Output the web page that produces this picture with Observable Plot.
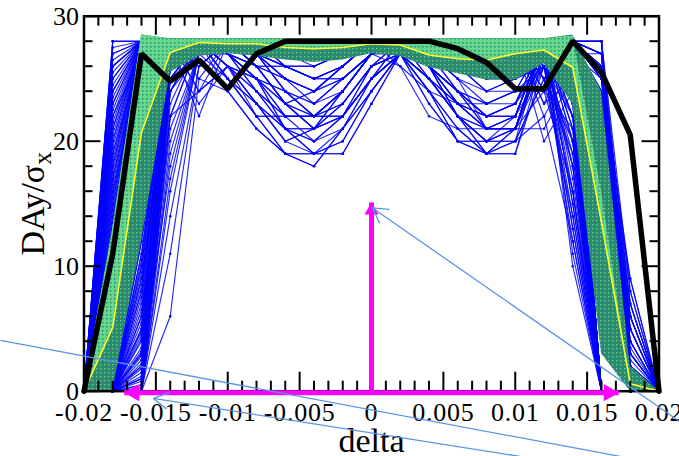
<!DOCTYPE html>
<html><head><meta charset="utf-8">
<script src="https://cdn.jsdelivr.net/npm/d3@7"></script>
<script src="https://cdn.jsdelivr.net/npm/@observablehq/plot@0.6"></script>
<style>
html,body{margin:0;padding:0;background:#fff;overflow:hidden;}
#chart svg{display:block;}
g[aria-label="x-axis tick label"] text{letter-spacing:0.8px;}
</style></head><body><div id="chart"></div>
<script>
const deltas = [-0.02,-0.018,-0.016,-0.014,-0.012,-0.01,-0.008,-0.006,-0.004,-0.002,0,0.002,0.004,0.006,0.008,0.01,0.012,0.014,0.016,0.018,0.02];

// one row per seed: DA at each delta
const seeds = [
[0,28,28,28,28,28,28,28,28,28,28,28,28,28,28,28,28,28,0,0,0],
[0,27,28,28,28,27,25,21,20,22,26,27,25,23,22,23,28,28,28,0,0],
[0,26,28,28,27,28,28,28,27,27,28,28,28,27,26,27,28,28,28,2,0],
[0,25,28,28,28,28,28,27,27,28,28,28,25,22,19,19,27,28,0,0,0],
[0,24,28,27,23,26,23,20,21,24,27,27,24,20,19,21,28,27,22,0,0],
[0,23,28,28,28,28,28,28,28,28,28,28,28,28,28,28,28,28,26,4,0],
[0,22,27,28,28,28,27,26,26,27,28,28,28,27,27,28,28,27,0,0,0],
[0,21,28,28,25,24,21,19,18,21,24,27,26,24,21,21,27,28,18,0,0],
[0,20,28,28,28,27,25,24,22,22,25,28,28,28,27,28,28,27,24,1,0],
[0,19,27,28,28,28,28,28,28,28,28,28,28,28,28,28,26,27,0,0,0],
[0,18,28,26,27,25,22,19,19,19,23,27,26,24,23,24,26,28,24,0,0],
[0,17,28,28,28,28,28,26,25,26,28,27,23,20,20,20,28,28,22,6,0],
[0,16,26,28,28,27,26,25,24,25,27,28,28,28,28,28,25,26,0,0,0],
[0,15,28,28,24,26,24,22,22,24,27,28,27,26,25,25,28,26,14,0,0],
[0,14,27,28,28,28,28,28,28,28,28,28,28,28,28,28,27,28,25,3,0],
[0,13,28,28,28,28,27,25,24,26,28,28,26,24,22,22,28,24,0,0,0],
[0,24,28,28,28,28,27,26,25,26,28,27,25,22,21,22,28,28,10,0,0],
[0,26,28,28,28,28,28,28,27,27,28,28,28,27,26,27,28,28,20,2,0],
[0,0,28,28,28,28,26,23,22,24,27,28,28,26,24,25,26,20,0,0,0],
[0,0,27,28,28,28,28,28,28,28,28,28,28,28,28,28,25,27,20,0,0],
[0,0,26,28,27,28,28,28,28,28,27,26,24,23,22,22,28,28,27,5,0],
[0,0,25,28,28,26,25,22,22,22,25,27,27,25,24,24,24,16,0,0,0],
[0,0,24,28,28,28,27,26,26,27,28,28,28,27,27,28,28,28,26,0,0],
[0,0,23,27,28,28,28,27,26,27,28,26,22,21,21,22,28,26,23,1,0],
[0,0,22,28,22,28,28,28,28,28,28,28,28,28,28,28,28,26,0,0,0],
[0,0,21,28,28,25,22,22,22,23,26,28,26,23,23,23,27,26,6,0,0],
[0,0,20,28,28,27,25,21,20,22,26,27,25,23,22,23,28,26,15,3,0],
[0,0,19,27,28,27,26,25,24,25,27,28,28,28,28,28,23,28,0,0,0],
[0,0,18,28,24,26,23,20,21,24,27,27,24,20,19,21,28,28,16,0,0],
[0,0,16,28,28,28,28,28,28,28,28,28,28,28,28,28,27,28,26,0.5,0],
[0,0,14,28,28,26,22,22,22,24,27,28,27,25,21,21,21,25,0,0,0],
[0,0,12,26,28,28,28,27,27,28,28,28,25,22,19,19,26,27,25,0,0],
[0,0,10,27,28,28,28,28,27,27,28,28,28,27,26,27,28,28,21,4,0],
[0,0,8,28,28,24,21,19,18,21,24,27,26,24,21,21,27,22,0,0,0],
[0,0,5,28,28,28,28,28,28,28,28,28,28,28,28,28,28,28,12,0,0],
[0,0,3,22,28,26,24,22,22,24,27,28,27,26,25,25,26,28,27,2,0],
[0,0,2,18,27,28,28,26,25,26,28,27,23,20,20,20,25,14,0,0,0],
[0,0,1,24,28,27,25,24,22,22,25,28,28,28,27,28,24,26,19,0,0],
[0,0,0,28,28,28,28,28,28,28,28,28,28,28,28,28,20,24,0,0,0],
[0,0,0,27,28,25,22,19,19,19,23,27,26,24,23,24,28,28,0,0,0],
[0,0,0,26,28,28,27,25,24,26,28,28,26,24,22,22,26,28,0,0,0],
[0,0,0,25,27,28,27,26,26,27,28,28,28,27,27,28,24,27,0,0,0],
[0,0,0,22,24,28,27,26,25,26,28,27,25,22,21,22,28,25,0,0,0],
[0,0,0,16,27,28,28,28,28,28,28,28,28,28,28,28,22,26,0,0,0],
[0,0,0,11,26,28,26,23,22,24,27,28,28,26,24,25,27,18,0,0,0],
[0,11.5,26,28,28,28,28,28,28,28,28,28,28,28,28,28,28,10,0,0,0],
[0,12.5,28,28,28,28,27,24,23,25,27,28,27,24,22,23,26,12,0,0,0],
[0,13.5,27,28,28,28,28,28,28,28,28,28,28,28,28,28,27,14,0,0,0],
[0,14.5,28,28,27,27,24,21,19,20,24,27,28,27,26,27,28,17,0,0,0],
[0,15.5,28,28,28,28,28,28,28,28,28,28,28,28,28,28,25,19,0,0,0],
[0,16.5,28,28,28,28,28,28,28,28,28,28,26,23,21,21,24,21,0,0,0],
[0,17.5,28,27,28,28,28,28,28,28,28,28,28,28,28,28,28,23,0,0,0],
[0,18.5,28,28,28,26,25,23,24,26,28,28,28,28,27,28,27,25,0,0,0],
[0,19.5,28,28,28,28,28,28,28,28,28,28,28,28,28,28,28,27,0,0,0],
[0,20.5,28,28,26,28,26,23,21,22,25,27,26,22,20,21,26,28,0,0,0],
[0,21.5,28,28,28,28,28,28,28,28,28,28,28,28,28,28,28,28,11,0,0],
[0,22.5,28,28,28,27,26,26,25,25,27,28,27,26,26,27,28,28,13,0,0],
[0,23.5,28,28,28,28,28,28,28,28,28,28,28,28,28,28,27,28,17,0,0],
[0,24.5,28,28,28,25,23,21,21,23,26,27,24,21,19,20,25,27,21,0,0],
[0,25.5,28,28,28,28,28,28,28,28,28,28,28,28,28,28,28,28,23,0,0],
[0,26.5,28,28,28,28,28,28,28,28,28,28,28,28,28,28,28,27,27,0,0],
[0,27.5,28,28,28,28,27,24,23,25,27,28,27,24,22,23,28,28,28,1,0],
[0,28,28,28,28,28,28,28,28,28,28,28,28,28,28,28,28,28,26,2,0],
[0,12,27,28,28,28,28,28,28,28,28,28,28,28,28,28,28,28,24,3,0],
[0,0,0.5,26,28,28,28,28,28,28,28,28,28,28,28,28,28,28,27,5,0],
[0,0,1.5,27,28,27,24,21,19,20,24,27,28,27,26,27,28,27,22,7,0],
[0,0,4,28,28,28,28,28,28,28,28,28,28,28,28,28,28,28,25,9,0],
[0,0,6,27,28,28,28,28,28,28,28,28,26,23,21,21,27,28,20,6,0],
[0,0,7,28,28,28,28,28,28,28,28,28,28,28,28,28,28,28,28,8,0],
[0,0,9,26,28,28,26,23,21,22,25,27,26,22,20,21,28,28,0,0,0],
[0,0,11,28,28,28,28,28,28,28,28,28,28,28,28,28,28,26,0,0,0],
[0,0,13,27,28,26,25,23,24,26,28,28,28,28,27,28,27,28,0,0,0],
[0,0,15,28,28,28,28,28,28,28,28,28,28,28,28,28,28,24,0,0,0],
[0,0,17,28,28,28,28,28,28,28,28,28,28,28,28,28,26,22,0,0,0],
[0,0,0,28,28,28,28,28,28,28,28,28,28,28,28,28,28,20,0,0,0],
[0,0,0,27,28,25,23,21,21,23,26,27,24,21,19,20,22,12,0,0,0],
[0,0,0,26,28,28,28,28,28,28,28,28,28,28,28,28,28,28,0,0,0],
[0,0,0,24,27,28,28,28,28,28,28,28,28,28,28,28,27,27,0,0,0],
[0,0,0,20,27,27,26,26,25,25,27,28,27,26,26,27,28,26,0,0,0],
[0,0,0,14,26,28,28,28,28,28,28,28,28,28,28,28,25,28,0,0,0],
[0,0,0,6,25,28,28,28,28,28,28,28,28,28,28,28,28,27,0,0,0],
[0,0,2.5,25,28,28,28,28,28,28,28,28,28,28,28,28,23,25,0,0,0],
[0,0,5.5,28,28,28,26,23,21,22,25,27,26,22,20,21,28,23,0,0,0],
[0,0,8.5,27,28,28,28,28,28,28,28,28,28,28,28,28,28,21,0,0,0],
[0,0,12,28,28,28,28,28,28,28,28,28,28,28,28,28,27,19,0,0,0],
[0,0,3.5,28,28,28,28,28,28,28,28,28,28,28,28,28,28,28,19,0,0],
[0,0,10,28,28,28,28,28,28,28,28,28,28,28,28,28,28,28,23,2,0],
[0,19,28,28,28,28,28,28,28,28,28,28,28,28,28,28,28,28,27,3,0],
[0,15,28,28,28,28,28,28,28,28,28,28,28,28,28,28,28,27,24,0,0],
[0,23,28,28,28,28,28,28,28,28,28,28,28,28,28,28,28,28,0,0,0],
[0,11,25,28,28,28,28,28,28,28,28,28,28,28,28,28,28,11,0,0,0],
[0,12,28,28,28,28,28,28,28,28,28,28,28,28,28,28,27,13,0,0,0],
[0,13,27,28,28,28,28,28,28,28,28,28,28,28,28,28,28,15,0,0,0],
[0,14,28,28,28,28,28,28,28,28,28,28,28,28,28,28,26,16,0,0,0],
[0,16,28,28,28,27,25,22,20,21,25,27,25,22,20,22,28,18,0,0,0],
[0,17,27,28,28,28,28,28,28,28,28,28,28,28,28,28,25,20,0,0,0],
[0,18,28,28,28,28,28,28,28,28,28,28,28,28,28,28,28,22,0,0,0],
[0,20,28,28,28,28,28,28,28,28,28,28,28,28,28,28,27,24,0,0,0],
[0,21,28,28,28,28,28,28,28,28,28,28,28,28,28,28,28,26,0,0,0],
[0,22,28,28,28,28,28,28,28,28,28,28,28,28,28,28,26,27,0,0,0],
[0,24,28,28,28,28,28,28,28,28,28,28,28,28,28,28,28,28,15,0,0],
[0,25,28,28,28,28,27,25,23,24,27,28,27,25,23,24,28,28,18,0,0],
[0,26,28,28,28,28,28,28,28,28,28,28,28,28,28,28,28,27,21,0,0],
[0,27,28,28,28,28,28,28,28,28,28,28,28,28,28,28,28,28,25,0,0],
[0,28,28,28,28,28,28,28,28,28,28,28,28,28,28,28,28,28,27,0,0],
[0,0,1,26,28,28,28,28,28,28,28,28,28,28,28,28,28,28,26,1.5,0],
[0,0,2,27,28,28,28,28,28,28,28,28,28,28,28,28,28,28,24,2.5,0],
[0,0,3,28,28,28,28,28,28,28,28,28,28,28,28,28,28,28,22,4,0],
[0,0,4.5,27,28,28,28,28,28,28,28,28,28,28,28,28,28,28,27,3.5,0],
[0,0,6.5,28,28,26,23,20,19,21,25,27,26,23,21,21,28,28,25,6,0],
[0,0,8,27,28,28,28,28,28,28,28,28,28,28,28,28,28,27,23,1,0],
[0,0,9.5,28,28,28,28,28,28,28,28,28,28,28,28,28,28,28,0,0,0],
[0,0,11,27,28,28,28,28,28,28,28,28,28,28,28,28,27,25,0,0,0],
[0,0,13,28,28,28,28,28,28,28,28,28,28,28,28,28,28,27,0,0,0],
[0,0,0,28,28,28,28,28,28,28,28,28,28,28,28,28,28,23,0,0,0],
[0,0,0,27,28,28,28,28,28,28,28,28,28,28,28,28,28,21,0,0,0],
[0,0,0,25,28,28,27,24,22,23,26,28,28,27,25,26,28,16,0,0,0],
[0,0,0,23,28,28,28,28,28,28,28,28,28,28,28,28,26,13,0,0,0],
[0,0,0.5,21,27,28,28,28,28,28,28,28,28,28,28,28,28,28,20,0,0],
[0,0,1,25,28,28,28,28,28,28,28,28,28,28,28,28,28,28,17,0,0],
[0,0,0.2,24,28,28,28,28,28,28,28,28,28,28,28,28,28,28,0,0,0],
[0,0,0.8,27,28,28,28,28,28,28,28,28,28,28,28,28,28,26,0,0,0],
[0,0,1.2,28,28,28,28,28,28,28,28,28,28,28,28,28,27,24,0,0,0],
[0,0,2.2,26,28,28,28,28,28,28,28,28,28,28,28,28,28,22,0,0,0],
[0,0,3.2,28,28,28,28,28,28,28,28,28,28,28,28,28,28,20,0,0,0],
[0,0,4.2,27,28,28,28,28,28,28,28,28,28,28,28,28,26,18,0,0,0],
[0,0,5,28,28,28,28,28,28,28,28,28,28,28,28,28,28,15,0,0,0],
[0,0,6,26,28,28,28,28,28,28,28,28,28,28,28,28,28,28,9,0,0],
[0,0,7.5,28,28,28,28,28,28,28,28,28,28,28,28,28,28,28,14,0,0],
[0,0,9,27,28,28,28,28,28,28,28,28,28,28,28,28,28,27,19,0,0],
[0,0,10.5,28,28,28,28,28,28,28,28,28,28,28,28,28,28,28,24,0,0],
[0,0,12.5,28,28,28,28,28,28,28,28,28,28,28,28,28,28,28,28,0,0],
[0,0,0,28,28,28,28,28,28,28,28,28,28,28,28,28,28,28,27,4,0],
[0,0,0,27,28,28,28,28,28,28,28,28,28,28,28,28,28,28,25,7,0],
[0,0,0,26,28,28,28,28,28,28,28,28,28,28,28,28,28,28,23,5,0],
[0,0,0,25,28,28,28,28,28,28,28,28,28,28,28,28,28,27,21,3,0],
[0,0,0,24,28,28,28,28,28,28,28,28,28,28,28,28,28,28,28,6,0],
[0,0,0,22,28,28,28,28,28,28,28,28,28,28,28,28,28,28,26,8,0],
[0,0,0,19,27,28,28,28,28,28,28,28,28,28,28,28,28,28,24,2,0],
[0,0,0,17,27,28,28,28,28,28,28,28,28,28,28,28,28,28,22,9,0],
[0,0,0.3,27,28,28,28,28,28,28,28,28,28,28,28,28,28,28,20,5,0],
[0,0,1.8,28,28,28,28,28,28,28,28,28,28,28,28,28,28,28,27,7,0],
[0,0,2.8,26,28,28,28,28,28,28,28,28,28,28,28,28,28,26,0,0,0],
[0,0,4.8,27,28,28,28,28,28,28,28,28,28,28,28,28,28,28,0,0,0]
];

const meanDA    = [0,5.1,20.7,27.1,27.9,27.8,27.8,27.5,27.4,27.5,27.8,27.7,26.9,26.6,26.5,27.0,27.3,25.9,13.5,0.6,0];
const bandLow   = [0,0,12,25.5,26.8,27.0,26.8,26.5,26.3,26.5,27.0,26.8,25.9,25.4,24.9,24.9,26.2,23,3,0,0];
const bandHigh  = [0,13,28.5,28.2,28.2,28.2,28.2,28.2,28.2,28.2,28.2,28.2,28.2,28.2,28.2,28.2,28.2,28.5,24,2,0];
const lightHigh = [0,13,28.5,28.2,28.2,28.2,28.2,28.2,28.2,28.2,28.2,28.2,28.2,28.2,28.2,28.2,28.2,28.4,16,0.6,0];
const refDA     = [0,11,27.0,24.8,26.5,24.2,27.0,28,28,28,28,28,28,27.4,26.3,24.2,24.2,28,25.5,20.5,0];

const xMajorTicks = [-0.02,-0.015,-0.01,-0.005,0,0.005,0.01,0.015,0.02];
const xTickLabels = ["-0.02","-0.015","-0.01","-0.005","0","0.005","0.01","0.015","0.02"];
const xMinorTicks = [-0.019,-0.018,-0.017,-0.016,-0.014,-0.013,-0.012,-0.011,-0.009,-0.008,-0.007,-0.006,-0.004,-0.003,-0.002,-0.001,0.001,0.002,0.003,0.004,0.006,0.007,0.008,0.009,0.011,0.012,0.013,0.014,0.016,0.017,0.018,0.019];
const yMajorTicks = [0,10,20,30];
const yTickLabels = ["0","10","20","30"];
const yMinorTicks = [2,4,6,8,12,14,16,18,22,24,26,28];

const xLabel = "delta";
const yLabel = "DAy/σx";

// magenta annotation arrows (data units)
const apertureSpan = [-0.0172, 0.0172];
const apertureHeight = [0, 15.1];
// light-blue callout lines (data units)
const callouts = [
  {x1: 0.02143, y1: -2.42, x2: 0.00007, y2: 14.66, head: true},
  {x1: -0.02581, y1: 4.06, x2: 0.01871, y2: -5.52, head: false},
  {x1: 0.01106, y1: -5.35, x2: -0.01517, y2: -0.58, head: true}
];

const seedRows = seeds.flatMap((row, s) => row.map((v, i) => ({seed: s, x: deltas[i], y: v})));
const bandRows = deltas.map((d, i) => ({x: d, lo: bandLow[i], hi: bandHigh[i], mean: meanDA[i], lhi: lightHigh[i]}));
const meanRows = deltas.map((d, i) => ({x: d, y: meanDA[i]}));
const refRows = deltas.map((d, i) => ({x: d, y: refDA[i]}));

const W = 679, H = 456, mL = 83.5, mR = 20.5, mT = 15.7, mB = 65.3;
const fw = W - mL - mR, fh = H - mT - mB;
const MAG = "#ff00ff", CB = "#5b95e6";

const chart = Plot.plot({
  width: W, height: H,
  marginLeft: mL, marginRight: mR, marginTop: mT, marginBottom: mB,
  x: {domain: [-0.02, 0.02]},
  y: {domain: [0, 30]},
  style: {fontFamily: "'Liberation Serif', 'Times New Roman', serif", background: "white", color: "black", overflow: "visible"},
  marks: [
    Plot.line(seedRows, {x: "x", y: "y", z: "seed", stroke: "#0000ff", strokeWidth: 1.15, strokeOpacity: 0.85}),
    Plot.dot(seedRows, {x: "x", y: "y", r: 1.25, fill: "#0000ff", stroke: null}),
    Plot.areaY(bandRows, {x: "x", y1: "lo", y2: "hi", fill: "#2e8b6f"}),
    Plot.areaY(bandRows, {x: "x", y1: "mean", y2: "lhi", fill: "#63d88a"}),
    Plot.line(meanRows, {x: "x", y: "y", stroke: "#ffff30", strokeWidth: 1.6}),
    Plot.line(refRows, {x: "x", y: "y", stroke: "black", strokeWidth: 5.5, strokeLinejoin: "miter"}),
    Plot.frame({stroke: "black", strokeWidth: 2.5}),
    Plot.tickX(xMajorTicks, {x: d => d, insetTop: fh - 19, stroke: "black", strokeWidth: 2}),
    Plot.tickX(xMajorTicks, {x: d => d, insetBottom: fh - 19, stroke: "black", strokeWidth: 2}),
    Plot.tickX(xMinorTicks, {x: d => d, insetTop: fh - 10, stroke: "black", strokeWidth: 2}),
    Plot.tickX(xMinorTicks, {x: d => d, insetBottom: fh - 10, stroke: "black", strokeWidth: 2}),
    Plot.tickY(yMajorTicks, {y: d => d, insetRight: fw - 17, stroke: "black", strokeWidth: 2}),
    Plot.tickY(yMajorTicks, {y: d => d, insetLeft: fw - 17, stroke: "black", strokeWidth: 2}),
    Plot.tickY(yMinorTicks, {y: d => d, insetRight: fw - 9, stroke: "black", strokeWidth: 2}),
    Plot.tickY(yMinorTicks, {y: d => d, insetLeft: fw - 9, stroke: "black", strokeWidth: 2}),
    Plot.axisX(xMajorTicks, {tickSize: 0, tickPadding: 11, fontSize: 26, label: null, tickFormat: d => xTickLabels[xMajorTicks.indexOf(d)]}),
    Plot.axisY(yMajorTicks, {tickSize: 0, tickPadding: 5, fontSize: 26, label: null, tickFormat: d => yTickLabels[yMajorTicks.indexOf(d)]}),
    Plot.text([xLabel], {frameAnchor: "bottom", text: d => d, dy: 60.3, lineAnchor: "bottom", fontSize: 34}),
    Plot.text([yLabel], {frameAnchor: "left", text: d => d, dx: -40.5, rotate: -90, lineAnchor: "bottom", textAnchor: "middle", fontSize: 34}),
    // magenta arrows
    Plot.link([apertureSpan], {x1: d => d[0], x2: d => d[1], y1: () => 0, y2: () => 0, stroke: MAG, strokeWidth: 5, dy: 1.5}),
    Plot.dot([apertureSpan[0]], {x: d => d, y: () => 0, symbol: "triangle", r: 6.4, rotate: -90, fill: MAG, stroke: null, dx: 10, dy: 1.5}),
    Plot.dot([apertureSpan[1]], {x: d => d, y: () => 0, symbol: "triangle", r: 6.4, rotate: 90, fill: MAG, stroke: null, dx: -10, dy: 1.5}),
    Plot.link([apertureHeight], {x1: () => 0, x2: () => 0, y1: d => d[0], y2: d => d[1], stroke: MAG, strokeWidth: 5}),
    Plot.dot([apertureHeight[1]], {x: () => 0, y: d => d, symbol: "triangle", r: 5.2, fill: MAG, stroke: null, dy: 8}),
    // callouts
    Plot.arrow(callouts.filter(d => d.head), {x1: "x1", y1: "y1", x2: "x2", y2: "y2", stroke: CB, strokeWidth: 1.3, headLength: 19, headAngle: 60}),
    Plot.link(callouts.filter(d => !d.head), {x1: "x1", y1: "y1", x2: "x2", y2: "y2", stroke: CB, strokeWidth: 1.3})
  ]
});

// mottled band texture (two-tone pattern fills)
const NS = "http://www.w3.org/2000/svg";
const defs = document.createElementNS(NS, "defs");
defs.innerHTML =
  '<pattern id="bandDark" width="4" height="4" patternUnits="userSpaceOnUse">' +
  '<rect width="4" height="4" fill="#2c8870"/><rect x="0" y="0" width="1.3" height="1.3" fill="#63d88a"/></pattern>' +
  '<pattern id="bandLight" width="4" height="4" patternUnits="userSpaceOnUse">' +
  '<rect width="4" height="4" fill="#64d98b"/><rect x="2" y="2" width="1.5" height="1.5" fill="#2c8870"/></pattern>';
chart.insertBefore(defs, chart.firstChild);
const areas = chart.querySelectorAll('g[aria-label="area"]');
if (areas[0]) areas[0].querySelectorAll("path").forEach(p => p.setAttribute("fill", "url(#bandDark)"));
if (areas[1]) areas[1].querySelectorAll("path").forEach(p => p.setAttribute("fill", "url(#bandLight)"));

// subscript in the y label
chart.querySelectorAll("text").forEach(t => {
  if (t.textContent === yLabel) {
    t.textContent = "DAy/σ";
    const ts = document.createElementNS(NS, "tspan");
    ts.setAttribute("dy", "7");
    ts.setAttribute("font-size", "26");
    ts.textContent = "x";
    t.appendChild(ts);
  }
});
document.getElementById("chart").appendChild(chart);
</script></body></html>
